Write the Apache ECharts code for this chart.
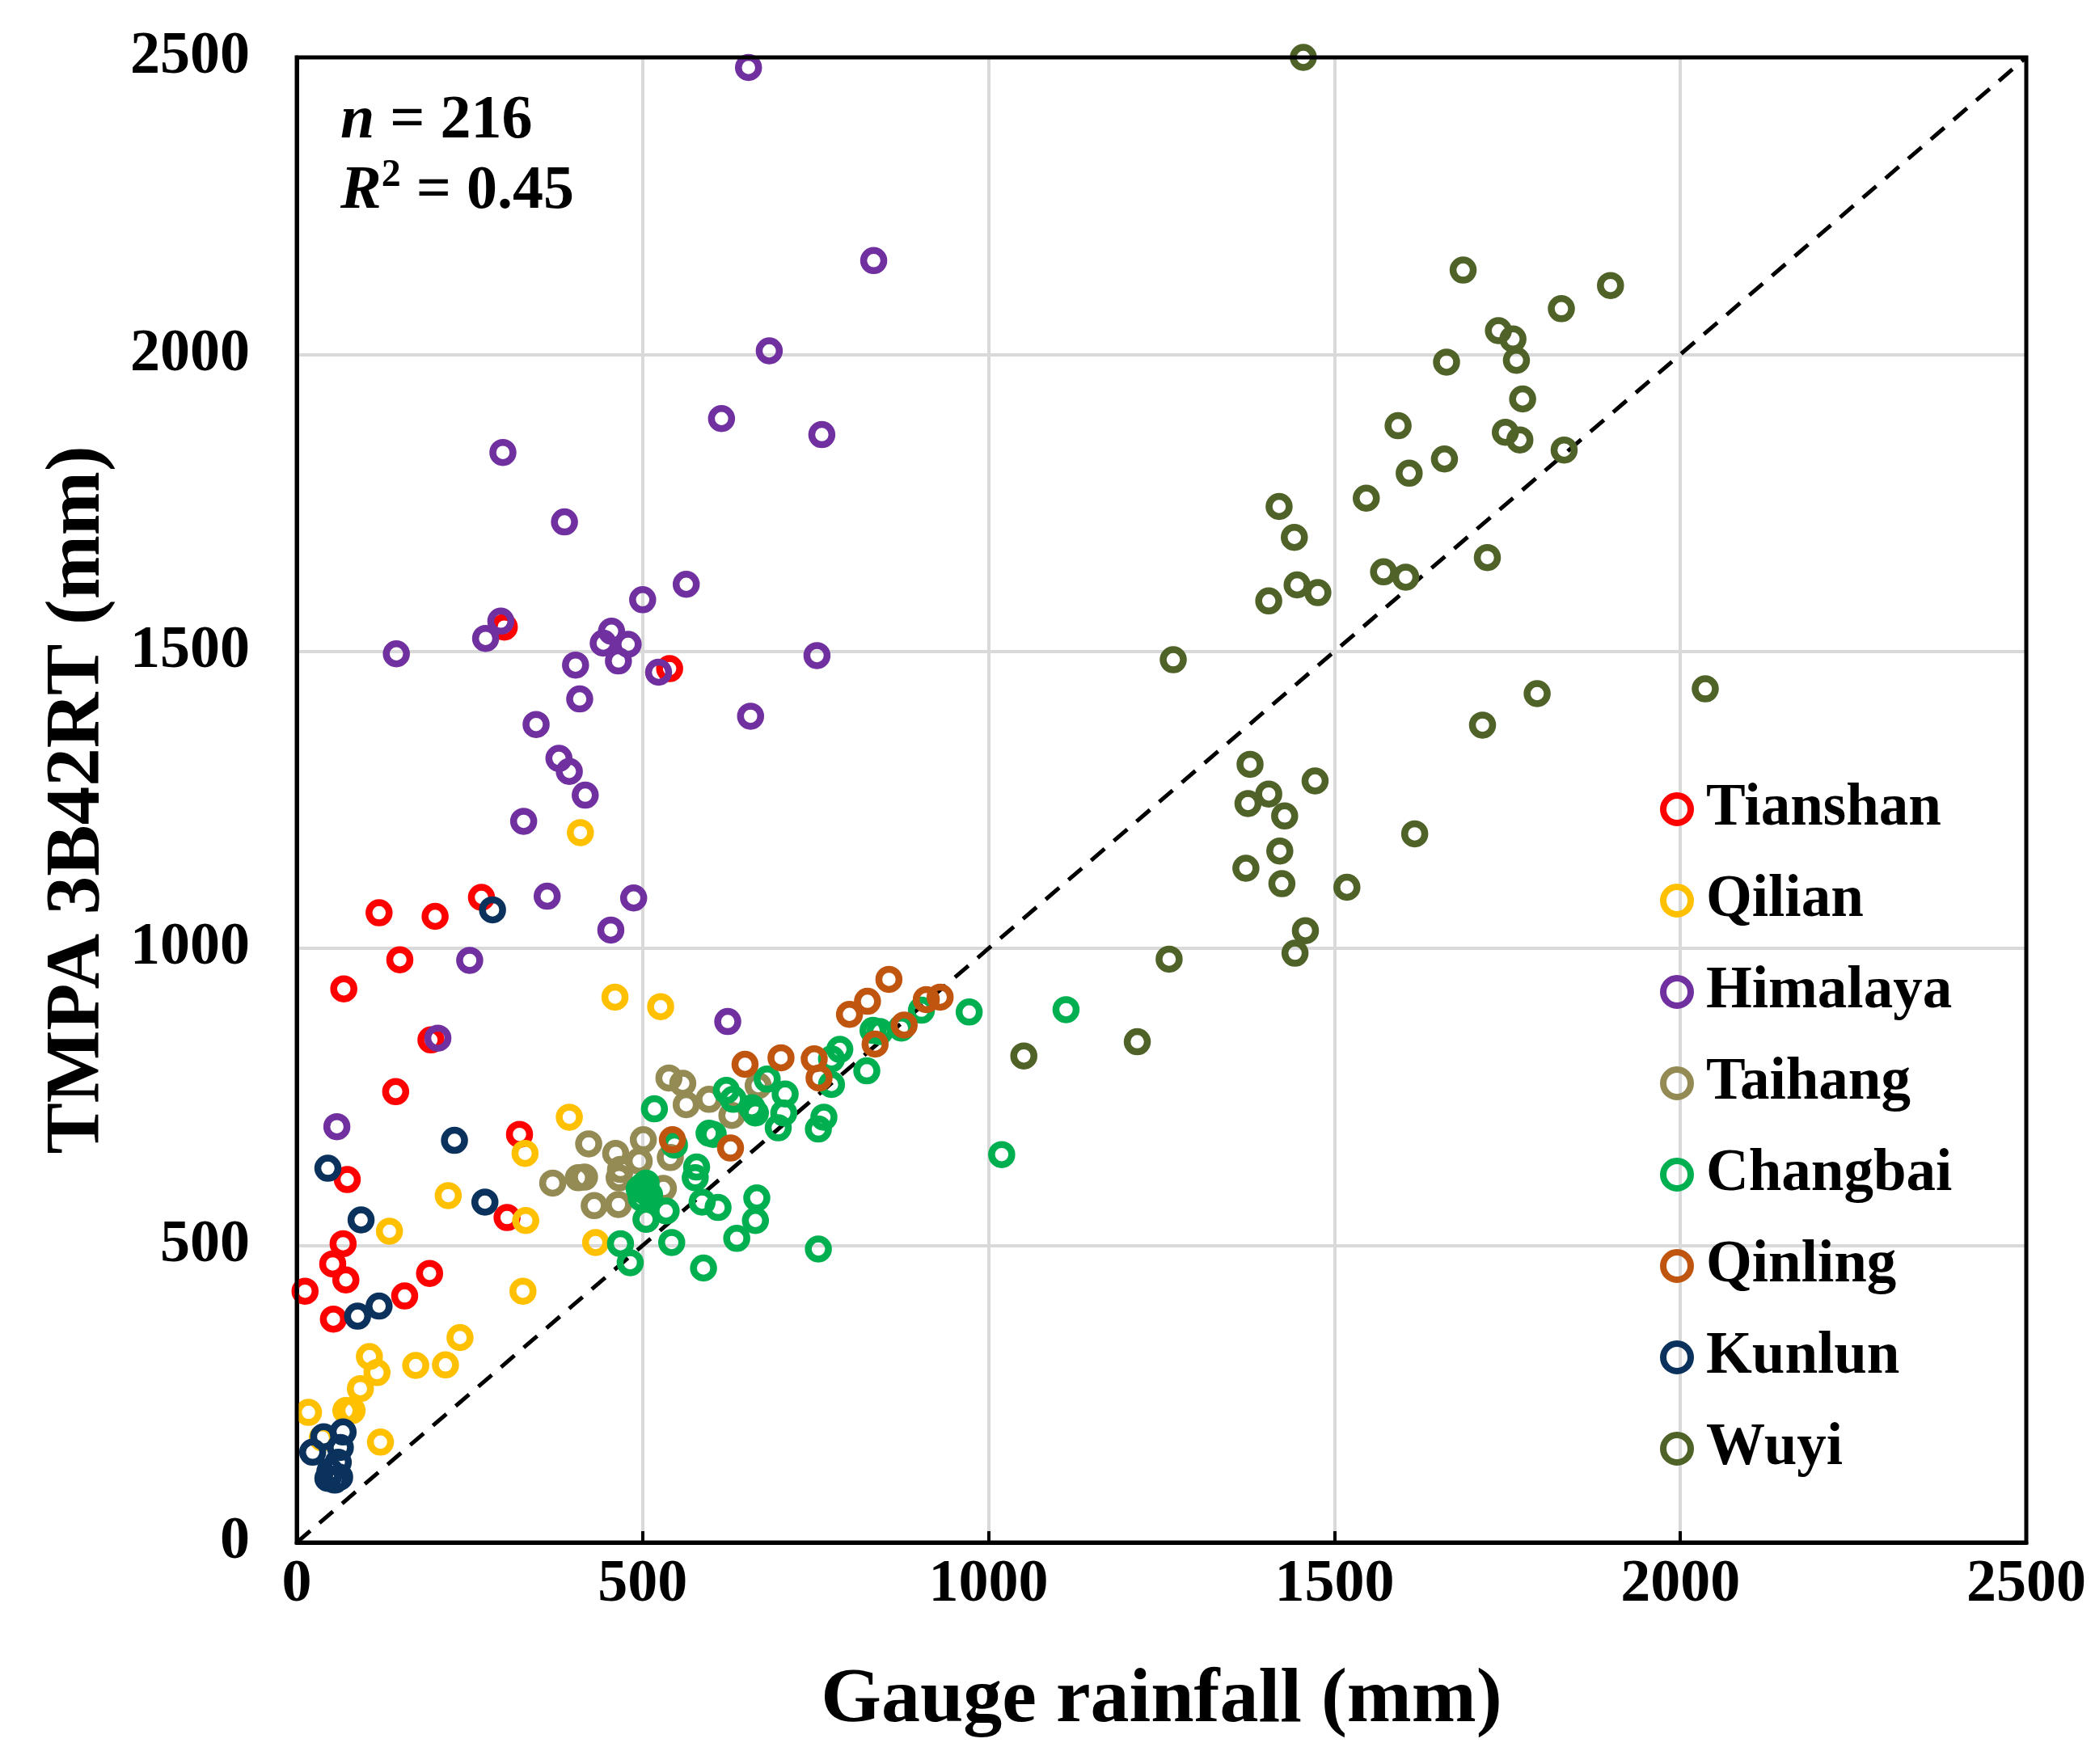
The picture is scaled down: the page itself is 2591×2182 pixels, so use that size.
<!DOCTYPE html>
<html lang="en">
<head>
  <meta charset="UTF-8">
  <title>TMPA 3B42RT vs gauge rainfall</title>
  <script src="https://cdn.jsdelivr.net/npm/echarts@6.0.0/dist/echarts.min.js"></script>
  <style>
    html, body { margin: 0; padding: 0; background: #fff; }
    #main { width: 2591px; height: 2182px; }
  </style>
</head>
<body>
<div id="main"></div>
<script>
  // 每个山区的点 [gauge, TMPA]
  var tianshan = [[300,1541],[539,1471],[119,1060],[200,1054],[267,1086],[149,981],[68,932],[194,846],[143,759],
    [322,687],[73,611],[67,503],[52,469],[71,442],[12,423],[53,376],[156,415],[192,453],[304,547]];
  var qilian = [[410,1195],[460,918],[526,902],[394,716],[330,655],[219,584],[134,524],[331,542],[432,505],[327,423],
    [236,345],[172,298],[215,299],[105,313],[116,286],[92,259],[71,222],[80,222],[17,219],[121,169],[37,176]];
  var himalaya = [[653,2483],[834,2158],[683,2006],[614,1892],[759,1865],[298,1835],[387,1718],[563,1613],[500,1587],
    [295,1551],[273,1522],[144,1496],[455,1534],[443,1514],[479,1512],[403,1477],[465,1484],[523,1465],[752,1493],
    [409,1420],[656,1391],[346,1377],[379,1320],[394,1298],[417,1258],[328,1214],[362,1088],[487,1085],[454,1031],
    [250,980],[204,849],[58,700],[623,877]];
  var taihang = [[538,782],[558,773],[563,737],[596,746],[629,719],[667,769],[422,671],[461,655],[501,678],[495,642],
    [468,628],[466,614],[416,615],[407,614],[370,605],[430,567],[465,569],[540,648],[530,596],[505,544]];
  var changbai = [[517,730],[500,600],[505,590],[495,595],[510,585],[498,580],[505,605],[546,669],[578,632],[576,614],
    [534,558],[505,544],[468,503],[482,471],[542,505],[588,462],[586,573],[609,564],[596,689],[602,687],[621,761],
    [631,746],[658,732],[663,723],[680,780],[706,755],[704,723],[696,698],[665,580],[663,542],[636,512],[762,716],
    [754,696],[754,494],[785,830],[773,814],[773,771],[824,794],[833,862],[843,860],[874,866],[903,896],[972,893],
    [1112,897],[1019,653]];
  var qinling = [[856,948],[825,911],[799,889],[910,914],[930,918],[878,871],[836,839],[748,814],[700,816],[648,805],
    [755,782],[543,678],[627,664]];
  var kunlun = [[228,677],[45,630],[93,543],[272,573],[88,381],[119,398],[283,1065],
    [67,186],[39,178],[23,152],[63,160],[60,135],[48,120],[62,110],[55,105],[45,108]];
  var wuyi = [[1686,2142],[1899,2116],[1828,2077],[1737,2040],[1758,2026],[1763,1990],[1662,1987],[1772,1925],
    [1592,1880],[1747,1869],[1768,1856],[1832,1839],[1659,1824],[1608,1800],[1546,1758],[1420,1744],[1442,1692],
    [1721,1658],[1571,1634],[1603,1625],[1446,1612],[1476,1599],[1405,1585],[1267,1486],
    [1793,1429],[1714,1376],[2036,1437],[1378,1310],[1472,1282],[1405,1260],[1375,1244],[1428,1223],[1616,1193],
    [1421,1164],[1372,1135],[1424,1109],[1518,1103],[1458,1030],[1443,992],[1261,982],
    [1051,819],[1215,843],[1455,2500]];

  var names = ['Tianshan','Qilian','Himalaya','Taihang','Changbai','Qinling','Kunlun','Wuyi'];
  var groups = [tianshan, qilian, himalaya, taihang, changbai, qinling, kunlun, wuyi];
  var colors = ['#FF0000','#FFC000','#7030A0','#948A54','#00B050','#C0550F','#0B325C','#4F6228'];
  var oneToOne = [[0,0],[2500,2500]];
  var ticks = [0, 500, 1000, 1500, 2000, 2500];

  var font = 'Liberation Serif, Times New Roman, serif';

  var series = [];
  // 1:1 虚线
  series.push({
    type: 'line', data: oneToOne, symbol: 'none', silent: true, z: 1,
    lineStyle: {color: '#000', width: 5, type: [22, 15]}
  });
  for (var i = 0; i < names.length; i++) {
    series.push({
      name: names[i], type: 'scatter', data: groups[i], clip: false, z: 2 + i,
      symbol: 'circle', symbolSize: 25,
      itemStyle: {color: 'rgba(255,255,255,0)', borderColor: colors[i], borderWidth: 8.5, opacity: 1}
    });
  }

  var chart = echarts.init(document.getElementById('main'));
  chart.setOption({
    animation: false,
    backgroundColor: '#fff',
    grid: {left: 367, top: 71, width: 2139, height: 1837, show: true, borderColor: '#000', borderWidth: 5, z: 10},
    xAxis: {
      type: 'value', min: ticks[0], max: ticks[ticks.length - 1], interval: 500,
      name: 'Gauge rainfall (mm)', nameLocation: 'middle', nameGap: 148,
      nameTextStyle: {fontFamily: font, fontWeight: 'bold', fontSize: 96, color: '#000'},
      axisLine: {show: true, lineStyle: {color: '#000', width: 5}},
      axisTick: {show: true, inside: true, length: 14, lineStyle: {color: '#000', width: 4}},
      axisLabel: {fontFamily: font, fontWeight: 'bold', fontSize: 74, color: '#000', margin: 16,
        formatter: function (v) { return String(v); }},
      splitLine: {show: true, lineStyle: {color: '#D9D9D9', width: 4}}
    },
    yAxis: {
      type: 'value', min: ticks[0], max: ticks[ticks.length - 1], interval: 500,
      name: 'TMPA 3B42RT (mm)', nameLocation: 'middle', nameGap: 222, nameRotate: 90,
      nameTextStyle: {fontFamily: font, fontWeight: 'bold', fontSize: 95, color: '#000'},
      axisLine: {show: true, lineStyle: {color: '#000', width: 5}},
      axisTick: {show: false},
      axisLabel: {fontFamily: font, fontWeight: 'bold', fontSize: 74, color: '#000', margin: 58,
        formatter: function (v) { return String(v); }},
      splitLine: {show: true, lineStyle: {color: '#D9D9D9', width: 4}}
    },
    legend: {
      data: names, orient: 'vertical', left: 2048, top: 956,
      itemWidth: 34, itemHeight: 34, itemGap: 33, icon: 'circle',
      itemStyle: {color: 'rgba(255,255,255,0)', borderWidth: 8},
      textStyle: {fontFamily: font, fontWeight: 'bold', fontSize: 73, color: '#000', lineHeight: 80, padding: [0, 0, 0, 14]}
    },
    graphic: [
      {type: 'text', left: 421, top: 112, z: 20, style: {
        text: '{i|n}{t| = 216}', fill: '#000',
        rich: {
          i: {fontFamily: font, fontWeight: 'bold', fontStyle: 'italic', fontSize: 76},
          t: {fontFamily: font, fontWeight: 'bold', fontSize: 76}
        }
      }},
      {type: 'text', left: 421, top: 194, z: 20, style: {
        text: '{i|R}{s|2}{t| = 0.45}', fill: '#000',
        rich: {
          i: {fontFamily: font, fontWeight: 'bold', fontStyle: 'italic', fontSize: 76, lineHeight: 86},
          s: {fontFamily: font, fontWeight: 'bold', fontSize: 48, verticalAlign: 'top', lineHeight: 86},
          t: {fontFamily: font, fontWeight: 'bold', fontSize: 76, lineHeight: 86}
        }
      }}
    ],
    series: series
  });
</script>
</body>
</html>
